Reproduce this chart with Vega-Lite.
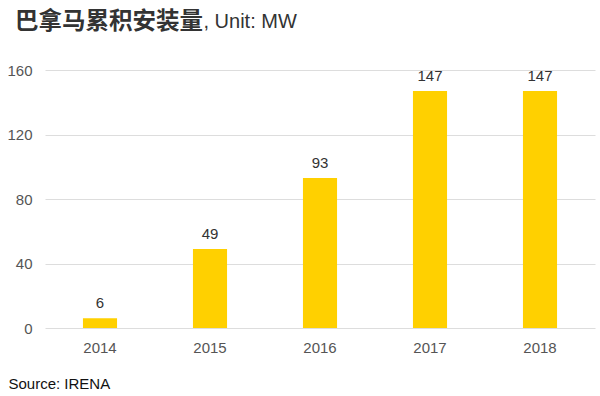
{
  "$schema": "https://vega.github.io/schema/vega-lite/v6.json",
  "autosize": {"type": "none"},
  "width": 550,
  "height": 258,
  "padding": {"left": 45, "top": 70, "right": 5, "bottom": 68},
  "background": "white",
  "title": {
    "text": "巴拿马累积安装量",
    "anchor": "start",
    "frame": "group",
    "font": "Noto Sans CJK SC",
    "fontSize": 23.5,
    "fontWeight": "bold",
    "color": "#333333",
    "dx": -30,
    "offset": -22
  },
  "data": {
    "values": [
      {"year": "2014", "mw": 6},
      {"year": "2015", "mw": 49},
      {"year": "2016", "mw": 93},
      {"year": "2017", "mw": 147},
      {"year": "2018", "mw": 147}
    ]
  },
  "config": {
    "view": {"stroke": null},
    "font": "Liberation Sans",
    "axis": {"labelFont": "Liberation Sans", "labelFontSize": 15, "labelColor": "#555555"}
  },
  "encoding": {
    "x": {
      "field": "year",
      "type": "ordinal",
      "scale": {"paddingInner": 0.69, "paddingOuter": 0.345},
      "axis": {
        "title": "Source: IRENA",
        "titleFont": "Liberation Sans",
        "titleFontSize": 15,
        "titleFontWeight": "normal",
        "titleColor": "#111111",
        "titleAnchor": "start",
        "titleAlign": "left",
        "titleBaseline": "alphabetic",
        "titleX": -37,
        "titleY": 60,
        "labelAngle": 0,
        "ticks": false,
        "domain": false,
        "labelPadding": 12
      }
    },
    "y": {
      "field": "mw",
      "type": "quantitative",
      "scale": {"domain": [0, 160]},
      "axis": {
        "title": ", Unit: MW",
        "titleFont": "Liberation Sans",
        "titleFontSize": 20,
        "titleFontWeight": "normal",
        "titleColor": "#333333",
        "titleAngle": 0,
        "titleAlign": "left",
        "titleBaseline": "alphabetic",
        "titleX": 158,
        "titleY": -43,
        "values": [0, 40, 80, 120, 160],
        "ticks": false,
        "domain": false,
        "labelPadding": 13,
        "gridColor": "#dddddd",
        "gridWidth": 1
      }
    }
  },
  "layer": [
    {"mark": {"type": "bar", "color": "#FFD000"}},
    {
      "mark": {"type": "text", "baseline": "bottom", "dy": -7, "fontSize": 15, "color": "#333333", "font": "Liberation Sans"},
      "encoding": {"text": {"field": "mw", "type": "quantitative"}}
    }
  ]
}
